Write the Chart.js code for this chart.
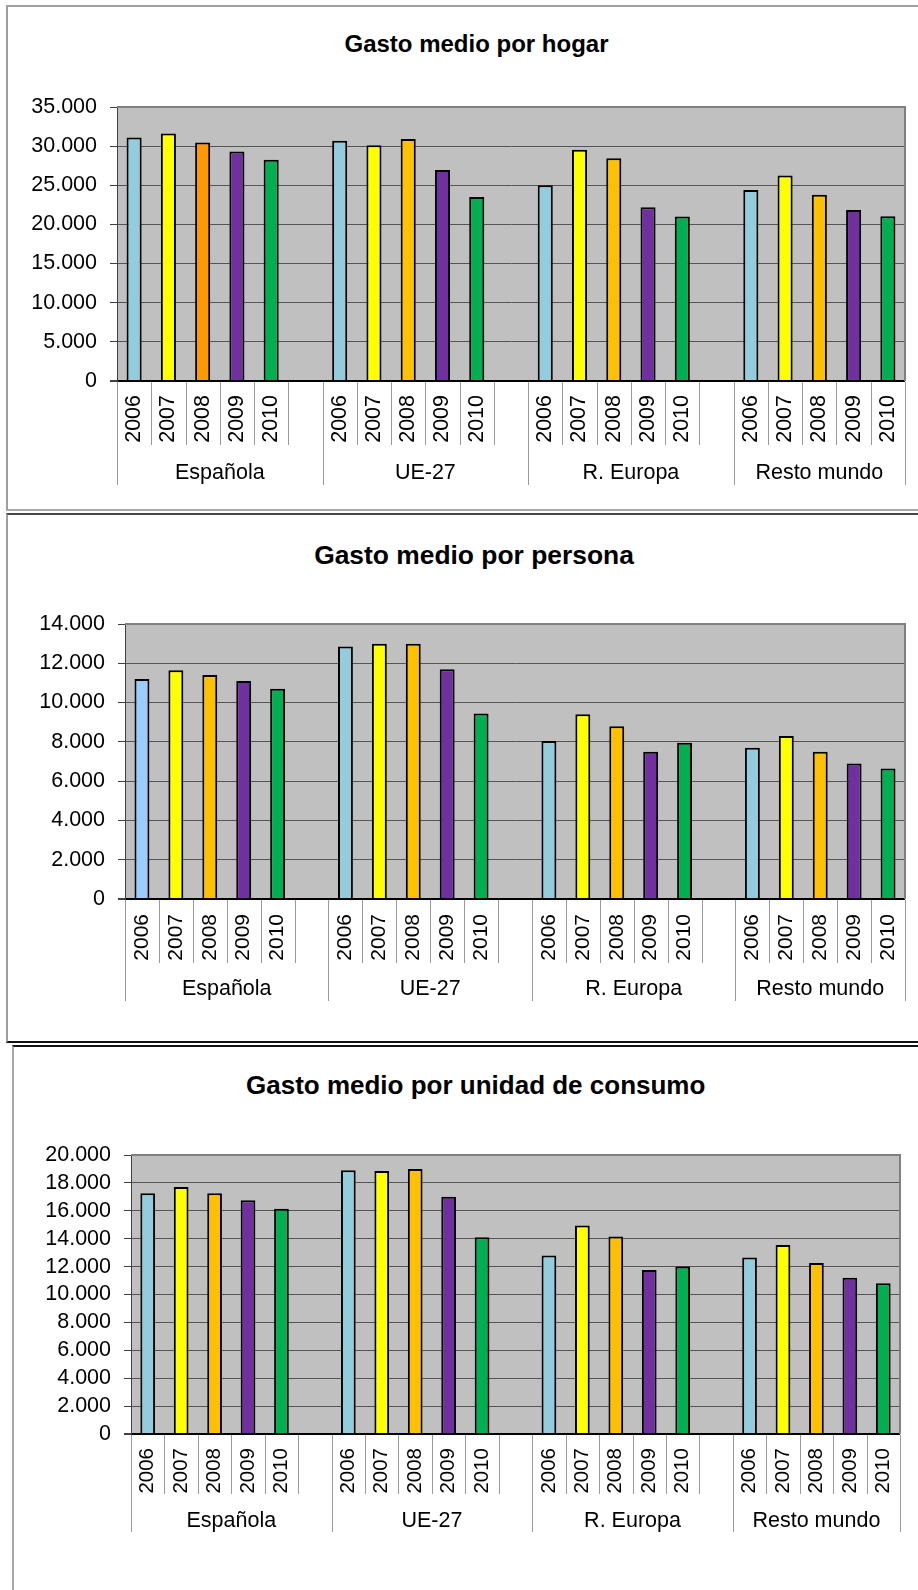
<!DOCTYPE html>
<html>
<head>
<meta charset="utf-8">
<script src="https://cdn.jsdelivr.net/npm/chart.js@4.4.0/dist/chart.umd.min.js"></script>
<style>
  html, body { margin: 0; padding: 0; background: #fff; }
  body { width: 918px; height: 1590px; position: relative; overflow: hidden;
         font-family: 'Liberation Sans', Arial, sans-serif; }
  .box { position: absolute; box-sizing: border-box; }
  .title { position: absolute; width: 700px; text-align: center; font-weight: bold;
           white-space: nowrap; color: #000; line-height: 1; }
  canvas { position: absolute; left: 0; }
</style>
</head>
<body>
<div class="box" style="left:6px; top:5px; width:1000px; height:506px; border-left:2px solid #a0a0a0; border-top:2px solid #a0a0a0; border-bottom:2px solid #a8a8a8;"></div>
<div class="box" style="left:6px; top:513px; width:1000px; height:530px; border-left:2px solid #a0a0a0; border-top:2px solid #474747; border-bottom:2px solid #111;"></div>
<div class="box" style="left:12px; top:1045px; width:1000px; height:600px; border-left:2px solid #a8a8a8; border-top:2px solid #111;"></div>

<div class="title" id="t1" style="font-size:24px;">Gasto medio por hogar</div>
<div class="title" id="t2" style="font-size:26.4px;">Gasto medio por persona</div>
<div class="title" id="t3" style="font-size:26px;">Gasto medio por unidad de consumo</div>

<canvas id="c1" width="918" height="510" style="top:0px"></canvas>
<canvas id="c2" width="918" height="532" style="top:510px"></canvas>
<canvas id="c3" width="918" height="548" style="top:1042px"></canvas>

<script>
// Categories
const years = ['2006', '2007', '2008', '2009', '2010'];
const groups = ['Española', 'UE-27', 'R. Europa', 'Resto mundo'];

// Gasto medio por hogar (euros), one array per nationality group, 2006-2010
const hogarEspanola   = [31100, 31600, 30450, 29300, 28250];
const hogarUE27       = [30700, 30100, 30900, 26950, 23500];
const hogarREuropa    = [25000, 29550, 28450, 22200, 21000];
const hogarRestoMundo = [24400, 26250, 23800, 21850, 21050];

// Gasto medio por persona
const personaEspanola   = [11200, 11650, 11400, 11100, 10700];
const personaUE27       = [12850, 13000, 13000, 11700, 9450];
const personaREuropa    = [8050, 9400, 8800, 7500, 7950];
const personaRestoMundo = [7700, 8300, 7500, 6900, 6650];

// Gasto medio por unidad de consumo
const unidadEspanola   = [17250, 17700, 17250, 16750, 16150];
const unidadUE27       = [18900, 18850, 19000, 17000, 14100];
const unidadREuropa    = [12800, 14950, 14150, 11750, 12000];
const unidadRestoMundo = [12650, 13550, 12250, 11200, 10800];

// Y axis ranges / tick steps
const hogarTicks   = [0, 35000, 5000];
const personaTicks = [0, 14000, 2000];
const unidadTicks  = [0, 20000, 2000];

// Fill colours by year
const yearColors = ['#93CDDD', '#FFFF00', '#FFC000', '#7030A0', '#00B050'];

const FONT = "'Liberation Sans', Arial, sans-serif";

// Each group gets five year slots followed by an empty spacer slot (none after the last group)
function buildSlots(groupArrays, overrides) {
  const labels = [], values = [], colors = [];
  groupArrays.forEach((arr, g) => {
    arr.forEach((v, i) => {
      labels.push(years[i]);
      values.push(v);
      const key = g + ':' + i;
      colors.push(overrides && overrides[key] ? overrides[key] : yearColors[i]);
    });
    if (g < groupArrays.length - 1) { labels.push(''); values.push(null); colors.push('#000'); }
  });
  return { labels, values, colors };
}

function fmt(v) {
  return String(v).replace(/\B(?=(\d{3})+(?!\d))/g, '.');
}

// Plot background, frame, category separators and group captions
const excelFrame = {
  id: 'excelFrame',
  beforeDraw(chart) {
    const { ctx, chartArea: a } = chart;
    ctx.save();
    ctx.fillStyle = '#C0C0C0';
    ctx.fillRect(a.left, a.top, a.right - a.left, a.bottom - a.top);
    ctx.restore();
  },
  afterDraw(chart, args, opts) {
    const { ctx, chartArea: a } = chart;
    const xs = chart.scales.x;
    const n = chart.data.labels.length;
    const w = xs.getPixelForValue(1) - xs.getPixelForValue(0);
    const x0 = xs.getPixelForValue(0) - w / 2;
    ctx.save();
    // frame on top and right of plot area
    ctx.strokeStyle = '#808080';
    ctx.lineWidth = 2;
    ctx.beginPath();
    ctx.moveTo(a.left, a.top);
    ctx.lineTo(a.right, a.top);
    ctx.lineTo(a.right, a.bottom);
    ctx.stroke();
    // separators below the axis
    ctx.strokeStyle = '#9a9a9a';
    ctx.lineWidth = 1;
    const groupEdges = new Set();
    let idx = 0;
    opts.groupSizes.forEach(s => { groupEdges.add(idx); idx += s; });
    groupEdges.add(n);
    for (let i = 0; i <= n; i++) {
      const x = Math.round(x0 + i * w) + 0.5;
      const drop = groupEdges.has(i) ? opts.groupDrop : opts.yearDrop;
      ctx.beginPath();
      ctx.moveTo(x, a.bottom + 1);
      ctx.lineTo(x, a.bottom + drop);
      ctx.stroke();
    }
    // group captions
    ctx.fillStyle = '#000';
    ctx.font = opts.labelSize + 'px ' + FONT;
    ctx.textAlign = 'center';
    ctx.textBaseline = 'alphabetic';
    let start = 0;
    opts.groupSizes.forEach((s, g) => {
      const cx = x0 + (start + s / 2) * w;
      ctx.fillText(groups[g], cx, a.bottom + opts.labelDrop);
      start += s;
    });
    ctx.restore();
  }
};

function makeChart(id, groupArrays, overrides, ticks, geo) {
  const slots = buildSlots(groupArrays, overrides);
  const groupSizes = groupArrays.map((a, g) => a.length + (g < groupArrays.length - 1 ? 1 : 0));
  return new Chart(document.getElementById(id), {
    type: 'bar',
    data: {
      labels: slots.labels,
      datasets: [{
        data: slots.values,
        backgroundColor: slots.colors,
        borderColor: '#000',
        borderWidth: 2,
        barPercentage: 0.44,
        categoryPercentage: 1
      }]
    },
    options: {
      responsive: false,
      animation: false,
      devicePixelRatio: 1,
      layout: { padding: { top: geo.top, right: geo.right, left: 0, bottom: 0 } },
      plugins: {
        legend: { display: false },
        tooltip: { enabled: false },
        title: { display: false },
        excelFrame: {
          groupSizes: groupSizes,
          yearDrop: geo.yearDrop, groupDrop: geo.groupDrop,
          labelDrop: geo.labelDrop, labelSize: 21.5
        }
      },
      scales: {
        x: {
          grid: { display: false, drawTicks: false },
          border: { display: false },
          ticks: {
            autoSkip: false, maxRotation: 90, minRotation: 90,
            color: '#000', padding: geo.yearPad,
            font: { family: FONT, size: geo.yearSize }
          },
          afterFit(s) {
            s.height = geo.xHeight;
            s.paddingLeft = 0; s.paddingRight = 0;
          }
        },
        y: {
          min: ticks[0], max: ticks[1],
          ticks: {
            stepSize: ticks[2], autoSkip: false, color: '#000', padding: 13,
            font: { family: FONT, size: 21.5 },
            callback: v => fmt(v)
          },
          grid: {
            color: c => (c.tick && c.tick.value === 0) ? '#000' : '#555',
            lineWidth: c => (c.tick && c.tick.value === 0) ? 2 : 1,
            tickLength: 7, drawTicks: true, tickColor: '#404040'
          },
          border: { display: true, color: '#404040', width: 1 },
          afterFit(s) {
            s.width = geo.yWidth;
            s.paddingTop = 0; s.paddingBottom = 0;
          }
        }
      }
    },
    plugins: [excelFrame]
  });
}

makeChart('c1', [hogarEspanola, hogarUE27, hogarREuropa, hogarRestoMundo],
  { '0:2': '#FF9900' }, hogarTicks,
  { top: 107, right: 13, yWidth: 117, xHeight: 129, yearDrop: 64, groupDrop: 104, labelDrop: 98, yearPad: 14, yearSize: 21.5 });

makeChart('c2', [personaEspanola, personaUE27, personaREuropa, personaRestoMundo],
  { '0:0': '#99CCFF' }, personaTicks,
  { top: 114, right: 13, yWidth: 125, xHeight: 143, yearDrop: 64, groupDrop: 102, labelDrop: 96, yearPad: 15, yearSize: 21 });

makeChart('c3', [unidadEspanola, unidadUE27, unidadREuropa, unidadRestoMundo],
  null, unidadTicks,
  { top: 113, right: 18, yWidth: 131, xHeight: 156, yearDrop: 60, groupDrop: 98, labelDrop: 93, yearPad: 14, yearSize: 20.5 });

// Title placement: centre x and baseline y on the page
function placeTitle(id, cx, baseline) {
  const el = document.getElementById(id);
  const fs = parseFloat(el.style.fontSize);
  el.style.left = (cx - 350) + 'px';
  el.style.top = (baseline - 0.8465 * fs) + 'px';
}
placeTitle('t1', 476.5, 52.5);
placeTitle('t2', 474, 564);
placeTitle('t3', 475.7, 1094.3);
</script>
</body>
</html>
